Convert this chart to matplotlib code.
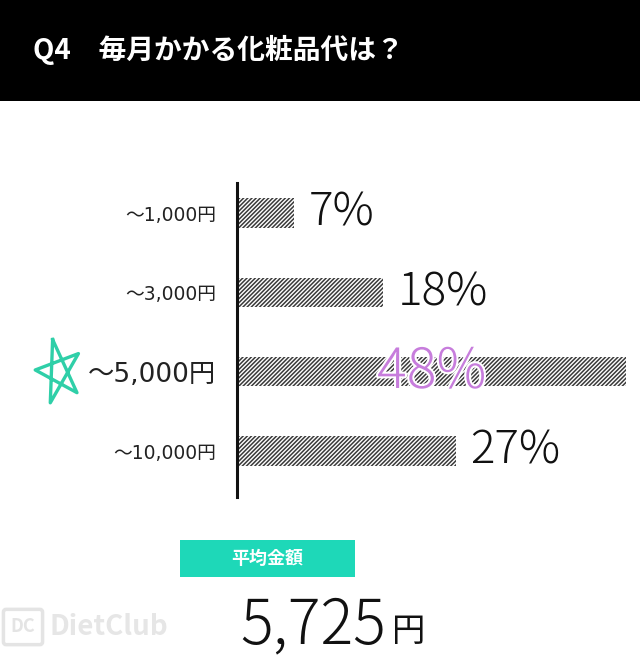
import numpy as np
import matplotlib.pyplot as plt
from matplotlib.patches import Rectangle, FancyBboxPatch
import matplotlib.patheffects as pe

plt.rcParams['font.family'] = ['Noto Sans CJK JP', 'DejaVu Sans']
plt.rcParams['hatch.linewidth'] = 1.1

# data
categories = ['〜1,000円', '〜3,000円', '〜5,000円', '〜10,000円']
shares = [7, 18, 48, 27]
title = 'Q4　毎月かかる化粧品代は？'
avg_label = '平均金額'
avg_value = '5,725'
highlight = 2

W, H = 640, 659
fig = plt.figure(figsize=(W / 100, H / 100), dpi=100)
fig.patch.set_facecolor('white')

# header band
fig.patches.append(Rectangle((0, 1 - 101 / H), 1, 101 / H, transform=fig.transFigure,
                             facecolor='black', edgecolor='none', zorder=0))
fig.text(33 / W, 1 - 50 / H, title, color='white', fontsize=20, fontweight='bold',
         va='center', ha='left')

ax = fig.add_axes([237 / W, 1 - 497 / H, (626 - 237) / W, (497 - 183) / H])
y = list(range(len(categories)))
ax.barh(y, shares, height=0.37, facecolor='white', edgecolor='#3a3a3a',
        hatch='////////', linewidth=0, zorder=2)
ax.set_xlim(0, 48)
ax.set_ylim(3.58, -0.38)
for s in ['top', 'right', 'bottom']:
    ax.spines[s].set_visible(False)
ax.spines['left'].set_linewidth(2.2)
ax.spines['left'].set_color('#111111')
ax.set_xticks([])
ax.set_yticks(y)
ax.set_yticklabels(categories, color='#222222')
for i, lab in enumerate(ax.get_yticklabels()):
    lab.set_family(['DejaVu Sans', 'Noto Sans CJK JP'])
    lab.set_fontsize(19 if i == highlight else 13.5)
ax.tick_params(axis='y', length=0, pad=15)

for i, v in enumerate(shares):
    if i == highlight:
        ax.text(v * 0.36, i, f'{v}%', fontsize=40, color='#c77ddc', va='center',
                ha='left', fontweight='light', zorder=3,
                path_effects=[pe.withStroke(linewidth=3, foreground='white')])
    else:
        ax.text(v + 1.8, i, f'{v}%', fontsize=33, color='#111111', va='center',
                ha='left', fontweight='light')

# hand-drawn style pentagram next to highlighted label
ang = np.deg2rad(105 + 144 * np.arange(6))
sx = -22.0 + 2.9 * np.cos(ang)
sy = highlight - 0.42 * np.sin(ang)
ax.plot(sx, sy, color='#2fcfa8', lw=2.4, clip_on=False, solid_joinstyle='round',
        zorder=5)

# average box
fig.patches.append(Rectangle((180 / W, 1 - 577 / H), 175 / W, 37 / H,
                             transform=fig.transFigure, facecolor='#1ed8b8',
                             edgecolor='none'))
fig.text(267 / W, 1 - 558 / H, avg_label, color='white', fontsize=13, fontweight='bold',
         ha='center', va='center')
fig.text(240 / W, 1 - 626 / H, avg_value, color='#111111', fontsize=44,
         fontweight='light', ha='left', va='center')
fig.text(392 / W, 1 - 632 / H, '円', color='#111111', fontsize=24,
         ha='left', va='center')

# watermark
fig.patches.append(FancyBboxPatch((6 / W, 1 - 642 / H), 34 / W, 30 / H,
                                  boxstyle='round,pad=0.004', transform=fig.transFigure,
                                  facecolor='none', edgecolor='#e4e4e4', lw=2.5))
fig.text(23 / W, 1 - 627 / H, 'DC', color='#e4e4e4', fontsize=13, fontweight='bold',
         ha='center', va='center')
fig.text(50 / W, 1 - 627 / H, 'DietClub', color='#e6e6e6', fontsize=20,
         fontweight='bold', ha='left', va='center')

fig.savefig('out.png', dpi=100)
